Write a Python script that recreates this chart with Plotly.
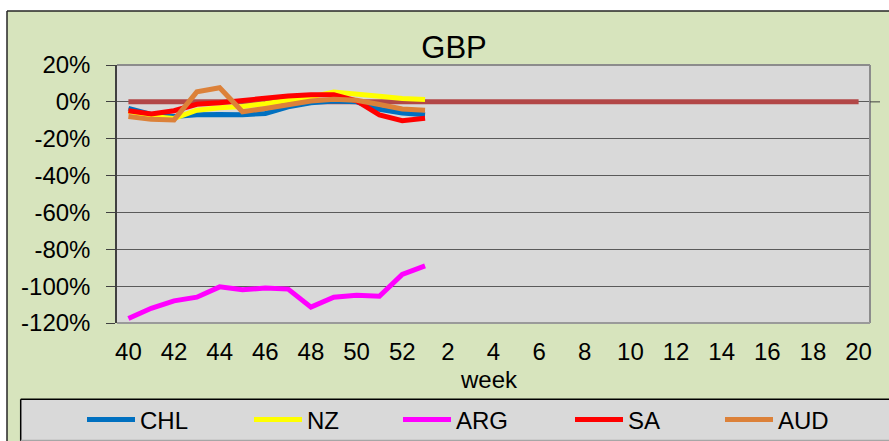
import plotly.graph_objects as go

# ---------------- data ----------------
weeks = ["40", "41", "42", "43", "44", "45", "46", "47", "48", "49", "50", "51", "52",
         "1", "2", "3", "4", "5", "6", "7", "8", "9", "10", "11", "12", "13", "14",
         "15", "16", "17", "18", "19", "20"]
data_weeks = ["40", "41", "42", "43", "44", "45", "46", "47", "48", "49", "50", "51", "52", "1"]

chl = [-3.6, -6.8, -8.0, -7.0, -6.8, -7.0, -6.3, -2.7, -0.5, 0.5, 0.0, -4.0, -6.0, -7.0]
nz = [-5.0, -8.0, -9.0, -4.5, -3.2, -2.5, -1.0, 1.0, 2.7, 5.4, 3.9, 3.0, 1.8, 1.3]
arg = [-117.6, -112.0, -108.0, -106.0, -100.4, -102.0, -101.0, -101.6, -111.4, -106.0,
       -105.0, -105.5, -93.6, -89.0]
sa = [-4.8, -6.6, -4.8, -1.3, -0.5, 0.9, 1.8, 3.2, 3.9, 3.9, 0.5, -7.1, -10.2, -8.9]
aud = [-8.0, -9.5, -9.8, 5.4, 7.7, -5.4, -3.6, -1.3, 0.5, 1.4, 0.9, -1.4, -3.9, -4.5]
zero_line = [0] * len(weeks)

y_tick_vals = [20, 0, -20, -40, -60, -80, -100, -120]
y_tick_text = ["20%", "0%", "-20%", "-40%", "-60%", "-80%", "-100%", "-120%"]
x_tick_vals = ["40", "42", "44", "46", "48", "50", "52", "2", "4", "6", "8", "10",
               "12", "14", "16", "18", "20"]

series_names = ["CHL", "NZ", "ARG", "SA", "AUD"]
series_values = [chl, nz, arg, sa, aud]
series_colors = ["#0070C0", "#FFFF00", "#FF00FF", "#FF0000", "#DC8139"]

# ---------------- layout geometry ----------------
W, H = 889, 441
L, R, T, B = 117, 19, 65, 118
PW, PH = W - L - R, H - T - B


def px2x(px):
    return (px - L) / PW


def py2y(py):
    return (H - B - py) / PH


FONT = "Arial, 'Liberation Sans', sans-serif"

fig = go.Figure()

# zero reference line (not in legend)
fig.add_trace(go.Scatter(x=weeks, y=zero_line, mode="lines",
                         line=dict(color="#B24747", width=5),
                         showlegend=False, hoverinfo="skip"))

legend_starts = [87, 254, 403, 575, 725]
legend_ids = ["legend", "legend2", "legend3", "legend4", "legend5"]
for name, vals, col, lid in zip(series_names, series_values, series_colors, legend_ids):
    fig.add_trace(go.Scatter(x=data_weeks, y=vals, mode="lines", name=name,
                             line=dict(color=col, width=5), legend=lid))

legend_common = dict(orientation="h", bgcolor="rgba(0,0,0,0)", borderwidth=0,
                     font=dict(family=FONT, size=24, color="#000000"),
                     xanchor="left", yanchor="middle", y=py2y(420),
                     itemwidth=48)
layout_legends = {}
for lid, sx in zip(legend_ids, legend_starts):
    layout_legends[lid] = dict(legend_common, x=px2x(sx - 5))

shapes = [
    # white margins outside the chart frame
    dict(type="rect", xref="paper", yref="paper", x0=px2x(-2), x1=px2x(W + 2),
         y0=py2y(11), y1=py2y(-2), fillcolor="#FFFFFF", line=dict(width=0), layer="below"),
    dict(type="rect", xref="paper", yref="paper", x0=px2x(-2), x1=px2x(7),
         y0=py2y(H + 2), y1=py2y(-2), fillcolor="#FFFFFF", line=dict(width=0), layer="below"),
    # chart frame
    dict(type="line", xref="paper", yref="paper", x0=px2x(7), x1=px2x(W + 2),
         y0=py2y(11), y1=py2y(11), line=dict(color="#262626", width=1.5), layer="below"),
    dict(type="line", xref="paper", yref="paper", x0=px2x(7), x1=px2x(7),
         y0=py2y(11), y1=py2y(H + 2), line=dict(color="#262626", width=1.5), layer="below"),
    # legend box
    dict(type="rect", xref="paper", yref="paper", x0=px2x(20.7), x1=px2x(W + 5),
         y0=py2y(440), y1=py2y(399.3), fillcolor="#D9D9D9", line=dict(width=0), layer="below"),
    dict(type="line", xref="paper", yref="paper", x0=px2x(20.7), x1=px2x(W + 5),
         y0=py2y(399.3), y1=py2y(399.3), line=dict(color="#000000", width=1.5), layer="below"),
    dict(type="line", xref="paper", yref="paper", x0=px2x(20.7), x1=px2x(20.7),
         y0=py2y(399.3), y1=py2y(H + 2), line=dict(color="#000000", width=1.5), layer="below"),
    dict(type="line", xref="paper", yref="paper", x0=px2x(20.7), x1=px2x(W + 5),
         y0=py2y(440.5), y1=py2y(440.5), line=dict(color="#A6A6A6", width=1.5), layer="below"),
    # plot area border (top, right, bottom)
    dict(type="line", xref="paper", yref="paper", x0=0, x1=1, y0=1, y1=1,
         line=dict(color="#8C8C8C", width=2), layer="above"),
    dict(type="line", xref="paper", yref="paper", x0=1, x1=1, y0=0, y1=1,
         line=dict(color="#8C8C8C", width=2), layer="above"),
    dict(type="line", xref="paper", yref="paper", x0=0, x1=1, y0=0, y1=0,
         line=dict(color="#9A9A9A", width=2), layer="above"),
    # small tick on right side at 0%
    dict(type="line", xref="paper", yref="y", x0=1, x1=px2x(880), y0=0, y1=0,
         line=dict(color="#404040", width=1), layer="above"),
]

annotations = [
    dict(text="week", xref="paper", yref="paper", x=px2x(489), y=py2y(379),
         xanchor="center", yanchor="middle", showarrow=False,
         font=dict(family=FONT, size=24, color="#000000")),
]

fig.update_layout(
    width=W, height=H,
    margin=dict(l=L, r=R, t=T, b=B, autoexpand=False),
    paper_bgcolor="#D7E4BD",
    plot_bgcolor="#D9D9D9",
    font=dict(family=FONT, size=24, color="#000000"),
    title=dict(text="GBP", font=dict(family=FONT, size=31, color="#000000"),
               xref="paper", x=px2x(454), xanchor="center",
               yref="container", y=1 - 47 / H, yanchor="middle"),
    xaxis=dict(type="category", categoryorder="array", categoryarray=weeks,
               range=[-0.5, len(weeks) - 0.5],
               tickmode="array", tickvals=x_tick_vals, ticktext=x_tick_vals,
               showgrid=False, zeroline=False, showline=False, ticks="",
               tickfont=dict(family=FONT, size=24, color="#000000"),
               ticklabelstandoff=12),
    yaxis=dict(range=[-120, 20], tickmode="array", tickvals=y_tick_vals, ticktext=y_tick_text,
               showgrid=True, gridcolor="#5A5A5A", gridwidth=1, zeroline=False,
               showline=True, linecolor="#404040", linewidth=1.5,
               ticks="outside", ticklen=9, tickcolor="#404040", tickwidth=1,
               ticklabelstandoff=11,
               tickfont=dict(family=FONT, size=24, color="#000000")),
    shapes=shapes,
    annotations=annotations,
    hovermode=False,
    **layout_legends,
)

fig.write_html("out.html", config={"displayModeBar": False},
               post_script="document.body.style.margin='0px';")
